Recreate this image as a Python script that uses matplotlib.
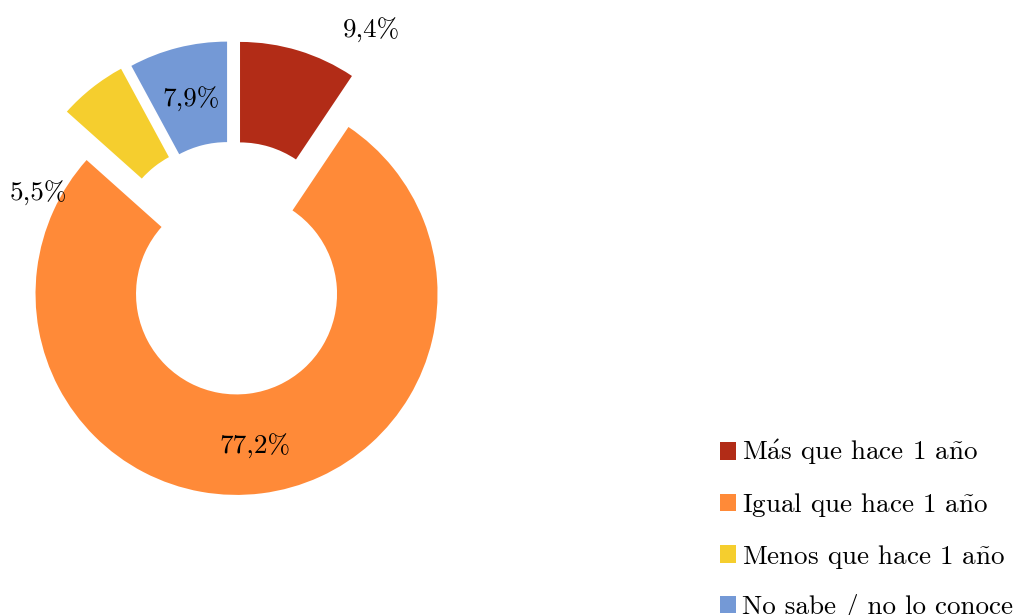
import matplotlib
matplotlib.use("Agg")
import matplotlib.pyplot as plt
from matplotlib.patches import Patch

plt.rcParams['font.family'] = ['cmr10', 'DejaVu Serif']
plt.rcParams['mathtext.fontset'] = 'cm'

categorias = ["Más que hace 1 año", "Igual que hace 1 año",
              "Menos que hace 1 año", "No sabe / no lo conoce"]
porcentajes = [9.4, 77.2, 5.5, 7.9]
etiquetas = ["9,4%", "77,2%", "5,5%", "7,9%"]
colores = ["#B22C17", "#FF8A38", "#F5CE2E", "#7499D6"]
separacion = [0.12, 0.14, 0.13, 0.12]
# posicion de cada etiqueta (x, y) en radios del anillo
pos_etiquetas = [(0.69, 1.17), (0.11, -0.90), (-0.97, 0.36), (-0.21, 0.83)]

W, H = 1014, 615
R = 201.0          # radio exterior en px
cx, cy = 233, 266  # centro en px (y desde arriba)


def cm_text(s):
    # cmr10 no trae acentos: se dibujan con mathtext en Computer Modern
    s = s.replace("á", r"$\mathrm{\acute{a}}$")
    s = s.replace("ñ", r"$\mathrm{\tilde{n}}$")
    return s


fig = plt.figure(figsize=(W / 100, H / 100), dpi=100)
ax = fig.add_axes([0, 0, 1, 1])

ax.pie(porcentajes, colors=colores, startangle=90, counterclock=False,
       explode=separacion, radius=1.0,
       wedgeprops=dict(width=0.5, edgecolor="none"))
ax.set_aspect("auto")
ax.set_xlim(-cx / R, (W - cx) / R)
ax.set_ylim((cy - H) / R, cy / R)
ax.axis("off")

for txt, (x, y) in zip(etiquetas, pos_etiquetas):
    ax.text(x, y, txt, ha="center", va="center", fontsize=19.5, color="black")

handles = [Patch(facecolor=c, edgecolor="none") for c in colores]
fig.legend(handles, [cm_text(c) for c in categorias], loc="upper left",
           bbox_to_anchor=(720 / W, 1 - 438 / H), frameon=False,
           fontsize=19.5, handlelength=0.6, handleheight=0.6,
           handletextpad=0.2, labelspacing=0.87, borderpad=0,
           borderaxespad=0)

fig.savefig("out.png", dpi=100)
